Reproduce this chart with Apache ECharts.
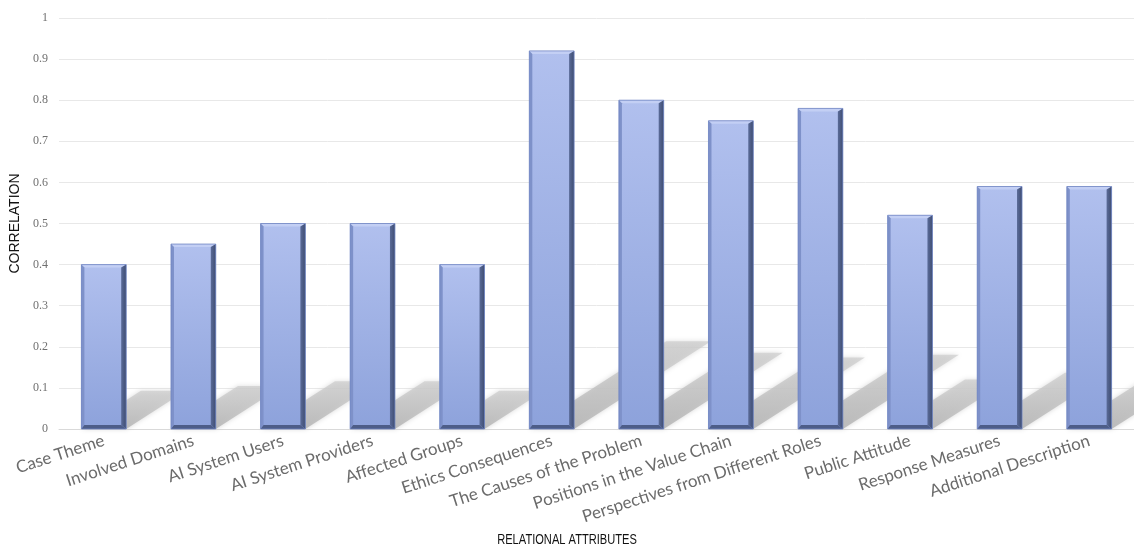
<!DOCTYPE html>
<html>
<head>
<meta charset="utf-8">
<title>Correlation of relational attributes</title>
<script src="https://cdn.jsdelivr.net/npm/echarts@6/dist/echarts.min.js"></script>
<style>
  html, body { margin: 0; padding: 0; background: #ffffff; }
  #chart { width: 1134px; height: 550px; }
</style>
</head>
<body>
<div id="chart"></div>
<script>
// Relational attributes and their correlation values
const categories = [
  'Case Theme', 'Involved Domains', 'AI System Users', 'AI System Providers',
  'Affected Groups', 'Ethics Consequences', 'The Causes of the Problem',
  'Positions in the Value Chain', 'Perspectives from Different Roles',
  'Public Attitude', 'Response Measures', 'Additional Description'
];
const correlation = [0.40, 0.45, 0.50, 0.50, 0.40, 0.92, 0.80, 0.75, 0.78, 0.52, 0.59, 0.59];

const yAxisTitle = 'CORRELATION';
const xAxisTitle = 'RELATIONAL ATTRIBUTES';

// Cast-shadow proportions: height relative to the bar, and horizontal run per pixel of rise
const SHADOW_RATIO = 0.232;
const SHADOW_RUN = 1.56;

const seriesData = correlation.map((v, i) => [i, v]);

function barBox(api) {
  const i = api.value(0), v = api.value(1);
  const top = api.coord([i, v]);
  const base = api.coord([i, 0]);
  const w = api.size([1, 0])[0] * 0.5;
  return { i, v, x: top[0] - w / 2, y: top[1], w, h: base[1] - top[1], base: base[1] };
}

// Gray perspective shadow thrown up and to the right of each bar
function renderShadow(params, api) {
  const b = barBox(api);
  const tip = api.coord([b.i, b.v * SHADOW_RATIO]);
  const dy = b.base - tip[1];
  const dx = dy * SHADOW_RUN;
  return {
    type: 'polygon',
    shape: {
      points: [
        [b.x, b.base], [b.x + b.w, b.base],
        [b.x + b.w + dx, b.base - dy], [b.x + dx, b.base - dy]
      ]
    },
    style: {
      fill: new echarts.graphic.LinearGradient(0, 1, 0, 0, [
        { offset: 0, color: 'rgba(180,180,180,0.85)' },
        { offset: 1, color: 'rgba(205,205,205,0.7)' }
      ]),
      shadowBlur: 5,
      shadowColor: 'rgba(195,195,195,0.8)'
    }
  };
}

// Bevelled bar: gradient face with lit top/left and dark right/bottom edges
function renderBar(params, api) {
  const b = barBox(api);
  const x = b.x, y = b.y, w = b.w, h = b.h;
  const r = 5, l = 3, t = 3, bt = 4;
  return {
    type: 'group',
    children: [
      {
        type: 'rect',
        shape: { x: x, y: y, width: w, height: h },
        style: {
          fill: new echarts.graphic.LinearGradient(0, 0, 0, 1, [
            { offset: 0, color: '#b1c0ee' },
            { offset: 1, color: '#8da2db' }
          ])
        }
      },
      {
        type: 'polygon',
        shape: { points: [[x, y], [x + w, y], [x + w - r, y + t], [x + l, y + t]] },
        style: { fill: '#c3cff4' }
      },
      {
        type: 'polygon',
        shape: { points: [[x, y], [x + l, y + t], [x + l, y + h - bt], [x, y + h]] },
        style: { fill: '#7e91c9' }
      },
      {
        type: 'polygon',
        shape: { points: [[x + w, y], [x + w, y + h], [x + w - r, y + h - bt], [x + w - r, y + t]] },
        style: {
          fill: new echarts.graphic.LinearGradient(0, 0, 1, 0, [
            { offset: 0, color: '#5a6b98' },
            { offset: 1, color: '#3f4d72' }
          ])
        }
      },
      {
        type: 'polygon',
        shape: { points: [[x, y + h], [x + l, y + h - bt], [x + w - r, y + h - bt], [x + w, y + h]] },
        style: { fill: '#4d5d88' }
      },
      {
        type: 'rect',
        shape: { x: x, y: y, width: w, height: h },
        style: { fill: 'none', stroke: '#6f84c2', lineWidth: 0.8 }
      }
    ]
  };
}

const chart = echarts.init(document.getElementById('chart'), null, { renderer: 'canvas' });

chart.setOption({
  animation: false,
  backgroundColor: '#ffffff',
  grid: { left: 59, top: 18, width: 1078, height: 411, containLabel: false },
  xAxis: {
    type: 'category',
    data: categories,
    boundaryGap: true,
    axisLine: { show: true, lineStyle: { color: '#d9d9d9', width: 1 } },
    axisTick: { show: false },
    axisLabel: {
      interval: 0,
      rotate: 18,
      margin: 11,
      color: '#6b6b6b',
      fontSize: 17,
      fontFamily: 'Lato, "Open Sans", sans-serif'
    },
    splitLine: { show: false }
  },
  yAxis: {
    type: 'value',
    min: 0,
    max: 1,
    interval: 0.1,
    name: yAxisTitle,
    nameLocation: 'middle',
    nameGap: 35,
    nameRotate: 90,
    nameTextStyle: {
      color: '#111111',
      fontSize: 14,
      fontWeight: 500,
      fontFamily: '"Liberation Sans", Arial, sans-serif'
    },
    axisLine: { show: false },
    axisTick: { show: false },
    axisLabel: {
      margin: 11,
      color: '#707070',
      fontSize: 12,
      fontFamily: '"Liberation Serif", "DejaVu Serif", serif',
      formatter: (val) => String(Math.round(val * 10) / 10)
    },
    splitLine: { show: true, lineStyle: { color: '#e8e8e8', width: 1 } }
  },
  graphic: [
    {
      type: 'text',
      x: 567,
      y: 540,
      scaleX: 0.74,
      style: {
        text: xAxisTitle,
        fill: '#111111',
        fontSize: 15,
        fontFamily: '"Liberation Sans", Arial, sans-serif',
        align: 'center',
        verticalAlign: 'middle'
      }
    }
  ],
  series: [
    {
      type: 'custom',
      name: 'shadow',
      z: 1,
      silent: true,
      clip: false,
      renderItem: renderShadow,
      encode: { x: 0, y: 1 },
      data: seriesData
    },
    {
      type: 'custom',
      name: 'Correlation',
      z: 2,
      renderItem: renderBar,
      encode: { x: 0, y: 1 },
      data: seriesData
    }
  ]
});
</script>
</body>
</html>
